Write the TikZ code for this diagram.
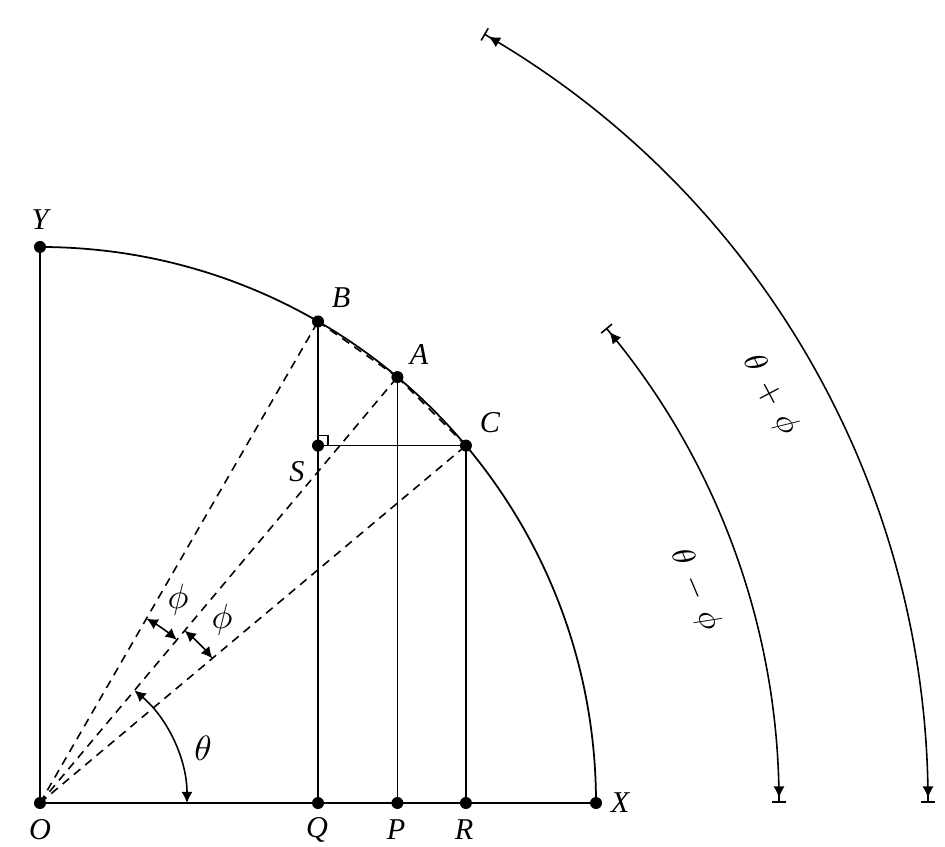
\documentclass[tikz,border=0pt]{standalone}
\usepackage{fontspec}
\setmainfont{Liberation Serif}
\usetikzlibrary{arrows.meta,calc}
\tikzset{
  pt/.style={circle,fill=black,inner sep=0pt,minimum size=0.12cm},
  lab/.style={inner sep=0pt,font=\fontsize{8.6}{10}\selectfont\itshape},
  glab/.style={inner sep=0pt,font=\fontsize{10}{12}\selectfont},
  rlab/.style={inner sep=0pt,font=\fontsize{9.5}{11}\selectfont},
  thin line/.style={line width=0.5pt},
  dashline/.style={line width=0.45pt,dash pattern=on 2.4pt off 1.8pt},
  bararc/.style={line width=0.45pt,{Bar[width=4pt]Latex[length=3.3pt,width=3.2pt,sep=1pt]}-{Latex[length=3.3pt,width=3.2pt,sep=1pt]Bar[width=4pt]}},
  dblarc/.style={line width=0.45pt,{Latex[length=3.2pt,width=3.2pt]}-{Latex[length=3.2pt,width=3.2pt]}}
}
\begin{document}
\begin{tikzpicture}
\useasboundingbox (-0.40,-0.43) rectangle (9.05,8.03);
% points
\node[pt] (O) at (0,0) {};
\node[pt] (X) at (5.56,0) {};
\node[pt] (Y) at (0,5.56) {};
\node[pt] (B) at (60:5.56) {};
\node[pt] (A) at (50:5.56) {};
\node[pt] (C) at (40:5.56) {};
\node[pt] (Q) at (B |- O) {};
\node[pt] (P) at (A |- O) {};
\node[pt] (R) at (C |- O) {};
\node[pt] (S) at (B |- C) {};
% solid lines
\draw[thin line] (O.center) -- (X.center);
\draw[thin line] (O.center) -- (Y.center);
\draw[thin line] (B.center) -- (Q.center);
\draw[thin line] (A.center) -- (P.center);
\draw[thin line] (C.center) -- (R.center);
\draw[thin line] (S.center) -- (C.center);
\draw[thin line] (X.center) arc[start angle=0,end angle=90,radius=5.56];
% right angle
\draw[line width=0.4pt] ($(S.center)+(0,0.1)$) -- ++(0.1,0) -- ++(0,-0.1);
% dashed
\draw[dashline] (O.center) -- (B.center);
\draw[dashline] (O.center) -- (A.center);
\draw[dashline] (O.center) -- (C.center);
\draw[dashline] (B.center) -- (A.center);
\draw[dashline] (A.center) -- (C.center);
% angle arcs
\draw[dblarc] (0:1.47) arc[start angle=0,end angle=50,radius=1.47];
\draw[dblarc] (50:2.13) arc[start angle=50,end angle=60,radius=2.13];
\draw[dblarc] (40:2.25) arc[start angle=40,end angle=50,radius=2.25];
\draw[bararc] (0:7.39) arc[start angle=0,end angle=40,radius=7.39];
\draw[bararc] (0:8.88) arc[start angle=0,end angle=60,radius=8.88];
% labels
\node[lab] (lY) at (0,5.83) {Y};
\node[lab] (lB) at (3.01,5.05) {B};
\node[lab] (lA) at (3.79,4.48) {A};
\node[lab] (lC) at (4.50,3.80) {C};
\node[lab] (lS) at (2.57,3.31) {S};
\node[lab] (lO) at (0,-0.27) {O};
\node[lab] (lQ) at (2.77,-0.27) {Q};
\node[lab] (lP) at (3.56,-0.27) {P};
\node[lab] (lR) at (4.24,-0.27) {R};
\node[lab] (lX) at (5.80,0) {X};
\node[glab] (lphi1) at (1.38,2.03) {$\phi$};
\node[glab] (lphi2) at (1.82,1.83) {$\phi$};
\node[glab] (lth) at (1.63,0.55) {$\theta$};
\node[rlab,rotate=-62] (ltp) at (7.30,4.08) {$\theta\,+\,\phi$};
\node[rlab,rotate=-67] (ltm) at (6.55,2.13) {$\theta\,-\,\phi$};
\end{tikzpicture}
\end{document}
